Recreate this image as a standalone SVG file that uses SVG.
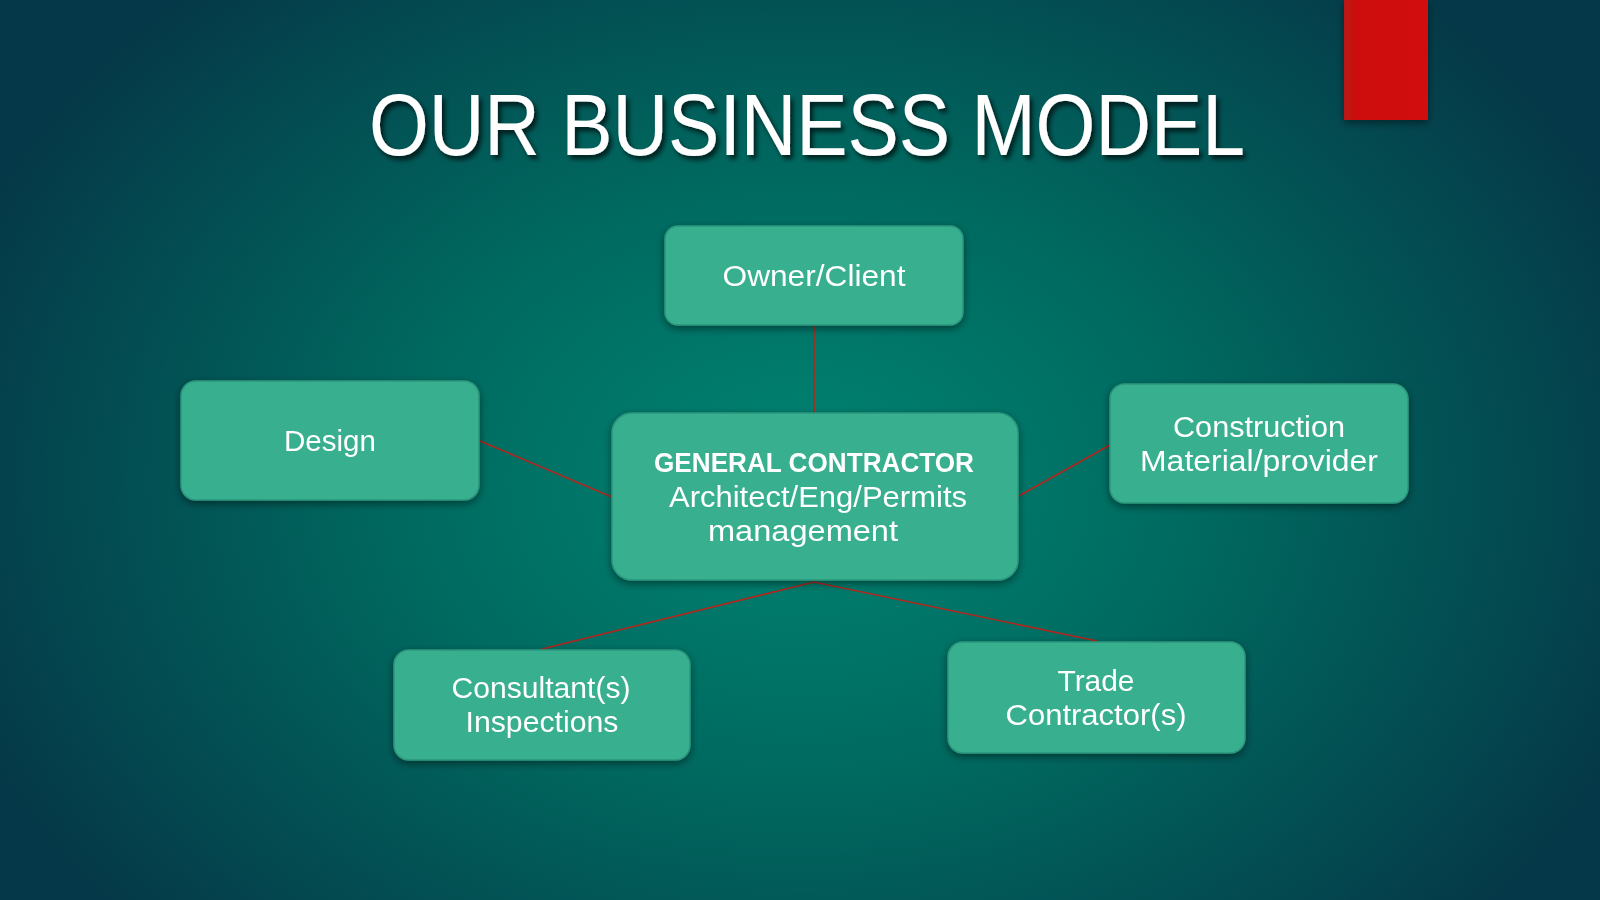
<svg xmlns="http://www.w3.org/2000/svg" width="1600" height="900" viewBox="0 0 1600 900">
<defs>
<radialGradient id="bg" cx="800" cy="480" r="900" gradientUnits="userSpaceOnUse" gradientTransform="translate(800 480) scale(1 0.75) translate(-800 -480)">
<stop offset="0" stop-color="#008472"/>
<stop offset="0.45" stop-color="#00695f"/>
<stop offset="1" stop-color="#053848"/>
</radialGradient>
<filter id="sh" x="-20%" y="-20%" width="140%" height="150%">
<feGaussianBlur in="SourceAlpha" stdDeviation="4"/>
<feOffset dx="0" dy="3" result="b"/>
<feComponentTransfer><feFuncA type="linear" slope="0.45"/></feComponentTransfer>
<feMerge><feMergeNode/><feMergeNode in="SourceGraphic"/></feMerge>
</filter>
<filter id="tsh" x="-5%" y="-20%" width="110%" height="150%">
<feGaussianBlur in="SourceAlpha" stdDeviation="2.5"/>
<feOffset dx="3" dy="4"/>
<feComponentTransfer><feFuncA type="linear" slope="0.7"/></feComponentTransfer>
<feMerge><feMergeNode/><feMergeNode in="SourceGraphic"/></feMerge>
</filter>
<linearGradient id="red" x1="0" y1="0" x2="1" y2="0">
<stop offset="0" stop-color="#b91414"/>
<stop offset="0.15" stop-color="#cd100c"/>
<stop offset="1" stop-color="#d2100c"/>
</linearGradient>
</defs>
<style>
.box{fill:#37af8f;stroke:#2d977c;stroke-width:1.5}
.t{font-family:"Liberation Sans",Arial,sans-serif;font-size:29px;fill:#ffffff;text-anchor:middle}
.b{font-weight:bold;font-size:27px}
.c{stroke:#b3261e;stroke-width:1.6;fill:none}
</style>
<rect width="1600" height="900" fill="url(#bg)"/>
<rect x="1344" y="0" width="84" height="120" fill="url(#red)" filter="url(#sh)"/>
<text x="807" y="155" font-family="'Liberation Sans',Arial,sans-serif" font-size="88" fill="#ffffff" text-anchor="middle" textLength="876" lengthAdjust="spacingAndGlyphs" filter="url(#tsh)">OUR BUSINESS MODEL</text>
<g id="connectors">
<line class="c" x1="814" y1="326" x2="814" y2="413"/>
<line class="c" x1="480" y1="441" x2="612" y2="497"/>
<line class="c" x1="1017" y1="497" x2="1110" y2="445"/>
<polyline class="c" points="542,649 814,582 1097,641"/>
</g>
<g id="owner" filter="url(#sh)">
<rect class="box" x="665" y="226" width="298" height="99" rx="13"/>
<text class="t" x="814" y="286" textLength="183" lengthAdjust="spacingAndGlyphs">Owner/Client</text>
</g>
<g id="gc" filter="url(#sh)">
<rect class="box" x="612" y="413" width="406" height="167" rx="20"/>
<text class="t b" x="814" y="472" textLength="320" lengthAdjust="spacingAndGlyphs">GENERAL CONTRACTOR</text>
<text class="t" x="818" y="507" textLength="298" lengthAdjust="spacingAndGlyphs">Architect/Eng/Permits</text>
<text class="t" x="803" y="541" textLength="190" lengthAdjust="spacingAndGlyphs">management</text>
</g>
<g id="design" filter="url(#sh)">
<rect class="box" x="181" y="381" width="298" height="119" rx="15"/>
<text class="t" x="330" y="451" textLength="92" lengthAdjust="spacingAndGlyphs">Design</text>
</g>
<g id="construction" filter="url(#sh)">
<rect class="box" x="1110" y="384" width="298" height="119" rx="15"/>
<text class="t" x="1259" y="437" textLength="172" lengthAdjust="spacingAndGlyphs">Construction</text>
<text class="t" x="1259" y="471" textLength="238" lengthAdjust="spacingAndGlyphs">Material/provider</text>
</g>
<g id="consultants" filter="url(#sh)">
<rect class="box" x="394" y="650" width="296" height="110" rx="15"/>
<text class="t" x="541" y="698" textLength="179" lengthAdjust="spacingAndGlyphs">Consultant(s)</text>
<text class="t" x="542" y="732" textLength="153" lengthAdjust="spacingAndGlyphs">Inspections</text>
</g>
<g id="trade" filter="url(#sh)">
<rect class="box" x="948" y="642" width="297" height="111" rx="15"/>
<text class="t" x="1096" y="691" textLength="77" lengthAdjust="spacingAndGlyphs">Trade</text>
<text class="t" x="1096" y="725" textLength="181" lengthAdjust="spacingAndGlyphs">Contractor(s)</text>
</g>
</svg>
